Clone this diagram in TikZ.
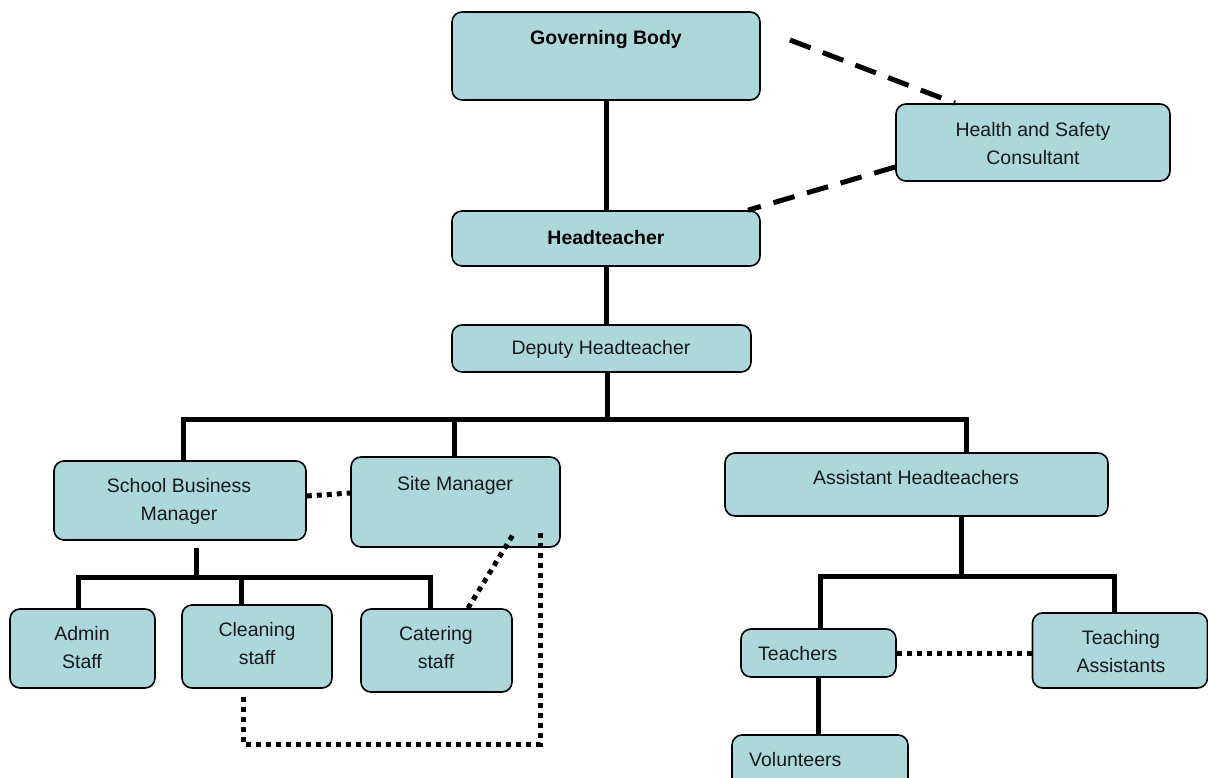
\documentclass[tikz,border=0pt]{standalone}
\usepackage{fontspec}
\setmainfont{Liberation Sans}
\begin{document}
\begin{tikzpicture}[x=1pt,y=-1pt,
  box/.style={draw=black, line width=1.6pt, fill=boxfill, rounded corners=10pt, inner sep=0pt},
  txt/.style={font=\fontsize{19.5}{28}\selectfont, align=center, inner sep=0pt, text=black!90},
  btxt/.style={font=\bfseries\fontsize{19.5}{28}\selectfont, align=center, inner sep=0pt},
  solidline/.style={line width=5pt},
  dashline/.style={line width=5pt, dash pattern=on 22pt off 13pt},
  dotline/.style={line width=5pt, dash pattern=on 5pt off 5pt}
]
\definecolor{boxfill}{RGB}{172,216,219}
\useasboundingbox (0,0) rectangle (1208,778);
\fill[white] (0,0) rectangle (1208,778);

% boxes
\node[box, minimum width=308pt, minimum height=88pt] (gb) at (606,56) {};
\node[box, minimum width=274pt, minimum height=77pt] (hs) at (1033,142.5) {};
\node[box, minimum width=308pt, minimum height=55pt] (ht) at (606,238.5) {};
\node[box, minimum width=299pt, minimum height=47pt] (dh) at (601.5,348.5) {};
\node[box, minimum width=252pt, minimum height=79pt] (sbm) at (180,500.5) {};
\node[box, minimum width=209pt, minimum height=90pt] (sm) at (455.5,502) {};
\node[box, minimum width=383pt, minimum height=63pt] (ah) at (916.5,484.5) {};
\node[box, minimum width=145pt, minimum height=79pt] (ad) at (82.5,648.5) {};
\node[box, minimum width=150pt, minimum height=83pt] (cl) at (257,646.5) {};
\node[box, minimum width=151pt, minimum height=83pt] (ca) at (436.5,650.5) {};
\node[box, minimum width=155pt, minimum height=48pt] (te) at (818.5,653) {};
\node[box, minimum width=175pt, minimum height=75pt] (ta) at (1120,650.5) {};
\node[box, minimum width=176pt, minimum height=70pt] (vo) at (820,770) {};

% texts
\node[btxt] (gbt) at (606,40) {Governing Body};
\node[txt] (hst) at (1033,144) {Health and Safety\\Consultant};
\node[btxt] (htt) at (606,238) {Headteacher};
\node[txt] (dht) at (601,349) {Deputy Headteacher};
\node[txt] (sbmt) at (179,501) {School Business\\Manager};
\node[txt] (smt) at (455,485) {Site Manager};
\node[txt] (aht) at (916,478) {Assistant Headteachers};
\node[txt] (adt) at (82,648) {Admin\\Staff};
\node[txt] (clt) at (257,644) {Cleaning\\staff};
\node[txt] (cat) at (436,648) {Catering\\staff};
\node[txt, anchor=west] (tet) at (758,654) {Teachers};
\node[txt] (tat) at (1121,652) {Teaching\\Assistants};
\node[txt, anchor=west] (vot) at (749,760) {Volunteers};

% junction coordinates
\coordinate (b1) at (607,419);
\coordinate (b1l) at (183,419);
\coordinate (b1m) at (454,419);
\coordinate (b1r) at (966,419);
\coordinate (b2) at (196,577);
\coordinate (b2l) at (78,577);
\coordinate (b2m) at (241,577);
\coordinate (b2r) at (430,577);
\coordinate (b3) at (961,576);
\coordinate (b3l) at (820,576);
\coordinate (b3r) at (1114,576);

% solid connectors
\draw[solidline] (gb.south) -- (ht.north);
\draw[solidline] (ht.south) -- (ht.south |- dh.north);
\draw[solidline] (dh.south -| b1) -- (b1);
\draw[solidline] (b1l |- sbm.north) -- (b1l) -- (b1r) -- (b1r |- ah.north);
\draw[solidline] (b1m) -- (b1m |- sm.north);
\draw[solidline] (b2 |- sbm.south) ++(0,7) -- (b2);
\draw[solidline] (b2l |- ad.north) -- (b2l) -- (b2r) -- (b2r |- ca.north);
\draw[solidline] (b2m) -- (b2m |- cl.north);
\draw[solidline] (b3 |- ah.south) -- (b3);
\draw[solidline] (b3l |- te.north) -- (b3l) -- (b3r) -- (b3r |- ta.north);
\draw[solidline] (te.south) -- (te.south |- vo.north);

% dashed connectors
\coordinate (d1) at (790,40);
\draw[dashline] (d1) -- (hs.north -| 955,0);
\draw[dashline] (hs.west |- 0,167) -- (ht.north -| 748,0);

% dotted connectors
\draw[dotline] (sbm.east |- 0,496) -- (sm.west |- 0,493);
\draw[dotline] (ca.north -| 468,0) -- (514,533);
\coordinate (q1) at (540,533);
\coordinate (q2) at (540,744);
\coordinate (q3) at (243,744);
\coordinate (q4) at (243,694);
\draw[dotline] (q1) -- (q2) -- (q3) -- (q4);
\draw[dotline] (te.east) -- (ta.west |- te.east);
\end{tikzpicture}
\end{document}
